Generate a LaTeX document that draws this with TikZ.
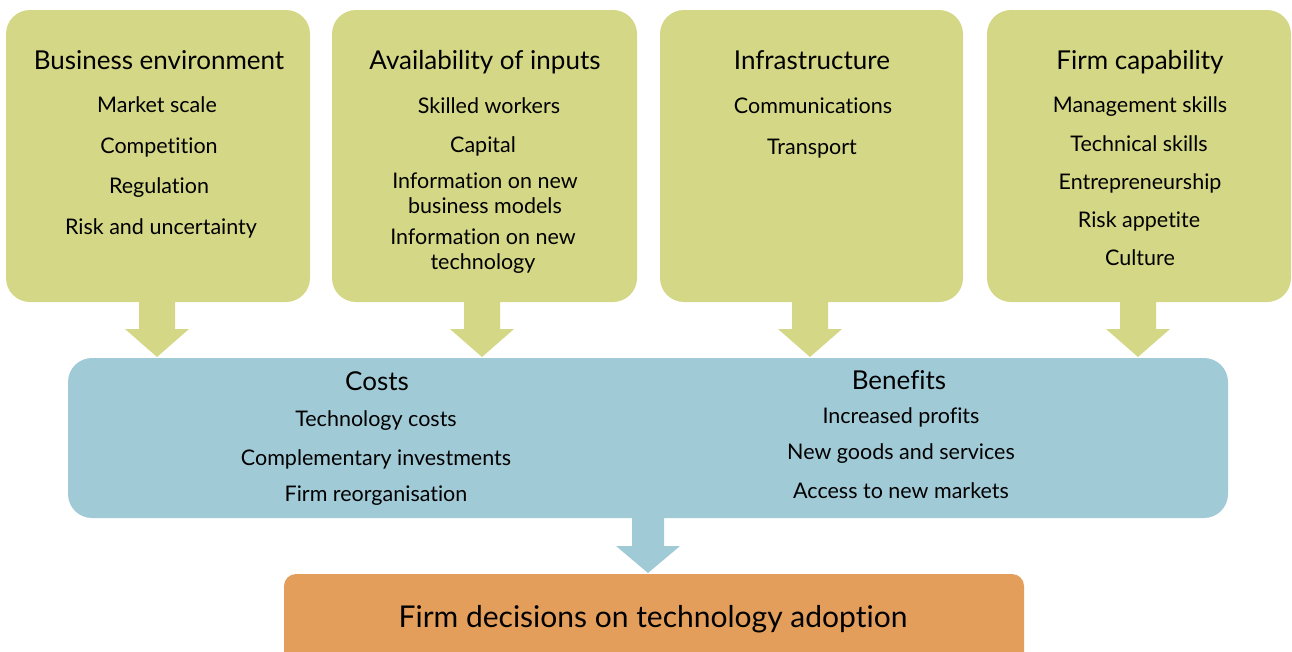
\documentclass[tikz,border=0pt]{standalone}
\usepackage{fontspec}
\setmainfont[Ligatures={NoCommon}]{Lato}
\usetikzlibrary{calc}
\definecolor{boxgreen}{HTML}{D4D785}
\definecolor{boxblue}{HTML}{A1CAD7}
\definecolor{boxorange}{HTML}{E39E5B}
\tikzset{
  greenbox/.style={fill=boxgreen, draw=none, rounded corners=24pt, minimum height=292pt, inner sep=0pt},
  bluebox/.style={fill=boxblue, draw=none, rounded corners=24pt, minimum width=1160pt, minimum height=160pt, inner sep=0pt},
  orangebox/.style={fill=boxorange, draw=none, rounded corners=12pt, minimum width=740pt, minimum height=110pt, inner sep=0pt},
  title/.style={font=\fontsize{26}{30}\selectfont, inner sep=0pt, anchor=center},
  item/.style={font=\fontsize{21.5}{25}\selectfont, inner sep=0pt, anchor=center, align=center},
  bigtitle/.style={font=\fontsize{30}{34}\selectfont, inner sep=0pt, anchor=center},
}
\newcommand{\blockarrow}[6]{% color, cx, ytop, yhead, ytip, halfshaft
  \fill[#1] (#2-#6,#3) -- (#2+#6,#3) -- (#2+#6,#4) -- (#2+32,#4) -- (#2,#5) -- (#2-32,#4) -- (#2-#6,#4) -- cycle;
}
\begin{document}
\begin{tikzpicture}[x=1pt,y=-1pt]
\useasboundingbox (0,0) rectangle (1292,651);
\clip (0,0) rectangle (1292,651);
% top boxes
\node[greenbox, minimum width=304pt] (b1) at (158,156) {};
\node[greenbox, minimum width=305pt] (b2) at (484.5,156) {};
\node[greenbox, minimum width=303pt] (b3) at (811.5,156) {};
\node[greenbox, minimum width=304pt] (b4) at (1139,156) {};
% middle and bottom boxes
\node[bluebox] (mid) at (648,438) {};
\node[orangebox] (dec) at (654,629) {};
% block arrows
\blockarrow{boxgreen}{157}{300}{329}{357}{18}
\blockarrow{boxgreen}{482}{300}{329}{357}{18}
\blockarrow{boxgreen}{810}{300}{329}{357}{18}
\blockarrow{boxgreen}{1138}{300}{329}{357}{18}
\blockarrow{boxblue}{648}{516}{546}{573}{16}
% box 1
\node[title] (t1) at (159,60) {Business environment};
\node[item] (i11) at (157,105) {Market scale};
\node[item] (i12) at (159,147) {Competition};
\node[item] (i13) at (159,188) {Regulation};
\node[item] (i14) at (161,228) {Risk and uncertainty};
% box 2
\node[title] (t2) at (485,62) {Availability of inputs};
\node[item] (i21) at (489,106) {Skilled workers};
\node[item] (i22) at (483,146) {Capital};
\node[item] (i23) at (485,193) {Information on new\\business models};
\node[item] (i24) at (483,251) {Information on new\\technology};
% box 3
\node[title] (t3) at (812,60) {Infrastructure};
\node[item] (i31) at (813,106) {Communications};
\node[item] (i32) at (812,149) {Transport};
% box 4
\node[title] (t4) at (1140,62) {Firm capability};
\node[item] (i41) at (1140,107) {Management skills};
\node[item] (i42) at (1139,144) {Technical skills};
\node[item] (i43) at (1140,183) {Entrepreneurship};
\node[item] (i44) at (1139,221) {Risk appetite};
\node[item] (i45) at (1140,258) {Culture};
% middle
\node[title] (tc) at (377,381) {Costs};
\node[item] (c1) at (376,421) {Technology costs};
\node[item] (c2) at (376,459) {Complementary investments};
\node[item] (c3) at (376,496) {Firm reorganisation};
\node[title] (tb) at (899,380) {Benefits};
\node[item] (e1) at (901,417) {Increased profits};
\node[item] (e2) at (901,454) {New goods and services};
\node[item] (e3) at (901,491) {Access to new markets};
% bottom
\node[bigtitle] (td) at (653,619) {Firm decisions on technology adoption};
\end{tikzpicture}
\end{document}
